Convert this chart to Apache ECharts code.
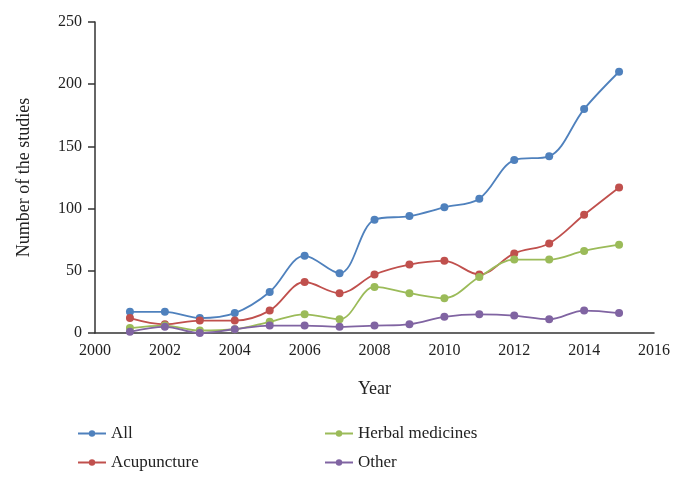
<!DOCTYPE html>
<html>
<head>
<meta charset="utf-8">
<script src="https://cdn.jsdelivr.net/npm/echarts@6/dist/echarts.min.js"></script>
<style>
html,body{margin:0;padding:0;background:#fff;}
#main{width:689px;height:486px;}
</style>
</head>
<body>
<div id="main"></div>
<script>
const years = [2001,2002,2003,2004,2005,2006,2007,2008,2009,2010,2011,2012,2013,2014,2015];
const allStudies = [17,17,12,16,33,62,48,91,94,101,108,139,142,180,210];
const acupuncture = [12,7,10,10,18,41,32,47,55,58,47,64,72,95,117];
const herbal = [4,6,2,3,9,15,11,37,32,28,45,59,59,66,71];
const other = [1,5,0,3,6,6,5,6,7,13,15,14,11,18,16];
const seriesNames = ['All','Acupuncture','Herbal medicines','Other'];
const colors = ['#4F81BD','#C0504D','#9BBB59','#8064A2'];

const font = '"Liberation Serif", "DejaVu Serif", serif';
const pairs = arr => years.map((y,i)=>[y,arr[i]]);
const dataSets = [allStudies, acupuncture, herbal, other];

const chart = echarts.init(document.getElementById('main'), null, {renderer:'canvas'});
chart.setOption({
  animation:false,
  backgroundColor:'#fff',
  color:colors,
  grid:{left:95,right:35,top:22,bottom:153,containLabel:false},
  xAxis:{
    type:'value',min:2000,max:2016,interval:2,
    name:'Year',nameLocation:'middle',nameGap:47,
    nameTextStyle:{fontFamily:font,fontSize:18,color:'#222'},
    axisLine:{lineStyle:{color:'#333',width:1.5}},
    axisTick:{show:false},
    splitLine:{show:false},
    axisLabel:{fontFamily:font,fontSize:16,color:'#222',margin:10,formatter:v=>String(v)}
  },
  yAxis:{
    type:'value',min:0,max:250,interval:50,
    name:'Number of the studies',nameLocation:'middle',nameGap:62,nameRotate:90,
    nameTextStyle:{fontFamily:font,fontSize:18,color:'#222'},
    axisLine:{show:true,lineStyle:{color:'#333',width:1.5}},
    axisTick:{show:true,inside:false,length:7,lineStyle:{color:'#333',width:1.5}},
    splitLine:{show:false},
    axisLabel:{fontFamily:font,fontSize:16,color:'#222',margin:13}
  },
  legend:[
    {data:['All','Acupuncture'],orient:'vertical',left:72,top:420,itemWidth:28,itemHeight:8,itemGap:12,
     textStyle:{fontFamily:font,fontSize:17,color:'#222'}},
    {data:['Herbal medicines','Other'],orient:'vertical',left:319,top:420,itemWidth:28,itemHeight:8,itemGap:12,
     textStyle:{fontFamily:font,fontSize:17,color:'#222'}}
  ],
  series:seriesNames.map((n,i)=>({
    name:n,type:'line',smooth:0.35,data:pairs(dataSets[i]),
    symbol:'circle',symbolSize:8,
    lineStyle:{width:1.8,color:colors[i]},
    itemStyle:{color:colors[i]}
  }))
});
</script>
</body>
</html>
